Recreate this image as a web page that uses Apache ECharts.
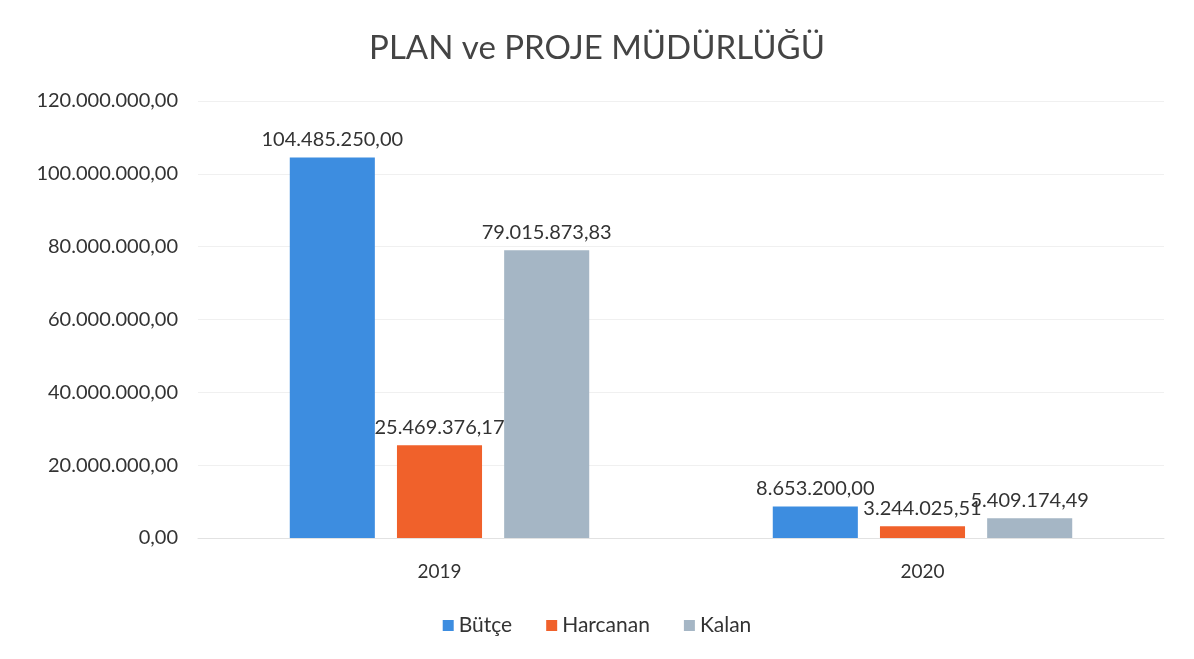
<!DOCTYPE html>
<html>
<head>
<meta charset="utf-8">
<script src="https://cdn.jsdelivr.net/npm/echarts@6/dist/echarts.min.js"></script>
<style>
  html, body { margin: 0; padding: 0; background: #fff; }
  #chart { width: 1194px; height: 659px; }
</style>
</head>
<body>
<div id="chart"></div>
<script>
// veriler
const years = ['2019', '2020']
const butce = [104485250.00, 8653200.00]
const harcanan = [25469376.17, 3244025.51]
const kalan = [79015873.83, 5409174.49]
const yTicks = [0, 20000000, 40000000, 60000000, 80000000, 100000000, 120000000]

// 104.485.250,00 biçimi
const trFormat = (v) => {
  const parts = Number(v).toFixed(2).split('.')
  return parts[0].replace(/\B(?=(\d{3})+(?!\d))/g, '.') + ',' + parts[1]
}

const font = 'Lato, "Open Sans", sans-serif'
const chart = echarts.init(document.getElementById('chart'))

const label = {
  show: true,
  position: 'top',
  distance: 8,
  color: '#333',
  fontSize: 20,
  fontFamily: font,
  formatter: (p) => trFormat(p.value)
}

chart.setOption({
  animation: false,
  title: {
    text: 'PLAN ve PROJE MÜDÜRLÜĞÜ',
    left: 'center',
    top: 27,
    textStyle: { fontSize: 33, fontWeight: 'normal', color: '#444', fontFamily: font }
  },
  legend: {
    bottom: 18,
    left: 'center',
    itemWidth: 11,
    itemHeight: 11,
    itemGap: 34,
    icon: 'rect',
    textStyle: { fontSize: 21, color: '#333', fontFamily: font }
  },
  grid: { left: 198, right: 30, top: 101, bottom: 121 },
  xAxis: {
    type: 'category',
    data: years,
    axisLine: { show: true, lineStyle: { color: '#e2e2e2' } },
    axisTick: { show: false },
    axisLabel: { fontSize: 19, color: '#333', margin: 24, fontFamily: font }
  },
  yAxis: {
    type: 'value',
    min: yTicks[0],
    max: yTicks[yTicks.length - 1],
    interval: yTicks[1] - yTicks[0],
    axisLabel: { fontSize: 20, color: '#333', margin: 20, fontFamily: font, formatter: trFormat },
    splitLine: { lineStyle: { color: '#f0f0f0' } }
  },
  series: [
    { name: 'Bütçe', type: 'bar', data: butce, itemStyle: { color: '#3d8de0' }, barGap: '26%', barCategoryGap: '38%', label },
    { name: 'Harcanan', type: 'bar', data: harcanan, itemStyle: { color: '#f0612b' }, label },
    { name: 'Kalan', type: 'bar', data: kalan, itemStyle: { color: '#a5b6c5' }, label }
  ]
})
</script>
</body>
</html>
